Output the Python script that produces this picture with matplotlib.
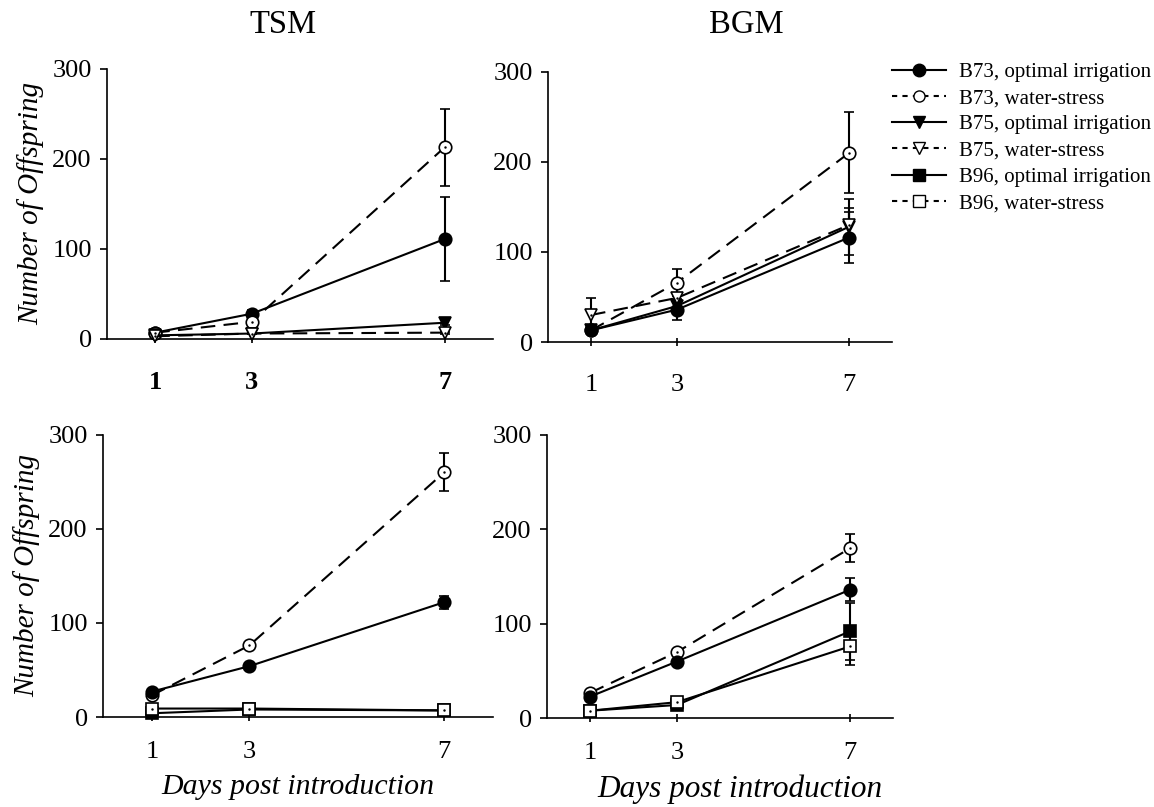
import matplotlib.pyplot as plt
from matplotlib.lines import Line2D

plt.rcParams['font.family'] = ['Liberation Serif', 'DejaVu Serif']

days = [1, 3, 7]

# TSM, top row (B73 and B75)
tsm1_b73_opt = [7, 28, 111]
tsm1_b73_opt_err = [2, 4, 47]
tsm1_b73_ws = [7, 19, 213]
tsm1_b73_ws_err = [2, 3, 43]
tsm1_b75_opt = [4, 6, 18]
tsm1_b75_opt_err = [1, 1, 3]
tsm1_b75_ws = [3, 6, 7]
tsm1_b75_ws_err = [1, 1, 1]

# BGM, top row
bgm1_b73_opt = [13, 36, 116]
bgm1_b73_opt_err = [3, 11, 28]
bgm1_b73_ws = [13, 66, 210]
bgm1_b73_ws_err = [3, 15, 45]
bgm1_b75_opt = [13, 40, 128]
bgm1_b75_opt_err = [3, 8, 31]
bgm1_b75_ws = [30, 49, 130]
bgm1_b75_ws_err = [19, 6, 19]

# TSM, bottom row (B73 and B96)
tsm2_b73_opt = [27, 54, 122]
tsm2_b73_opt_err = [2, 3, 7]
tsm2_b73_ws = [23, 76, 260]
tsm2_b73_ws_err = [2, 3, 20]
tsm2_b96_opt = [4, 8, 7]
tsm2_b96_opt_err = [1, 1, 1]
tsm2_b96_ws = [9, 9, 7]
tsm2_b96_ws_err = [1, 1, 1]

# BGM, bottom row
bgm2_b73_opt = [23, 60, 136]
bgm2_b73_opt_err = [2, 3, 12]
bgm2_b73_ws = [27, 70, 180]
bgm2_b73_ws_err = [2, 3, 15]
bgm2_b96_opt = [8, 14, 92]
bgm2_b96_opt_err = [1, 2, 30]
bgm2_b96_ws = [8, 17, 76]
bgm2_b96_ws_err = [1, 2, 20]

labels = ['B73, optimal irrigation', 'B73, water-stress',
          'B75, optimal irrigation', 'B75, water-stress',
          'B96, optimal irrigation', 'B96, water-stress']
markers = ['o', 'o', 'v', 'v', 's', 's']
filled = [True, False, True, False, True, False]
# in the panels the B96 water-stress line is drawn solid
dashed_in_plot = [False, True, False, True, False, False]

panels = [
    ([0.0927, 0.580, 0.3345, 0.3346], 'TSM', 283,
     [(0, tsm1_b73_opt, tsm1_b73_opt_err), (1, tsm1_b73_ws, tsm1_b73_ws_err),
      (2, tsm1_b75_opt, tsm1_b75_opt_err), (3, tsm1_b75_ws, tsm1_b75_ws_err)]),
    ([0.4749, 0.5762, 0.298, 0.3346], 'BGM', 746,
     [(1, bgm1_b73_ws, bgm1_b73_ws_err), (0, bgm1_b73_opt, bgm1_b73_opt_err),
      (2, bgm1_b75_opt, bgm1_b75_opt_err), (3, bgm1_b75_ws, bgm1_b75_ws_err)]),
    ([0.0893, 0.1115, 0.338, 0.350], None, None,
     [(1, tsm2_b73_ws, tsm2_b73_ws_err), (0, tsm2_b73_opt, tsm2_b73_opt_err),
      (4, tsm2_b96_opt, tsm2_b96_opt_err), (5, tsm2_b96_ws, tsm2_b96_ws_err)]),
    ([0.474, 0.110, 0.300, 0.351], None, None,
     [(1, bgm2_b73_ws, bgm2_b73_ws_err), (0, bgm2_b73_opt, bgm2_b73_opt_err),
      (4, bgm2_b96_opt, bgm2_b96_opt_err), (5, bgm2_b96_ws, bgm2_b96_ws_err)]),
]

fig = plt.figure(figsize=(11.54, 8.07), dpi=100)

for i, (rect, title, title_x, series) in enumerate(panels):
    ax = fig.add_axes(rect)
    for k, y, e in series:
        ls = (0, (7, 4)) if dashed_in_plot[k] else '-'
        mfc = 'black' if filled[k] else 'white'
        eb = ax.errorbar(days, y, yerr=e, color='black', lw=1.5, ls=ls,
                         marker=markers[k], ms=9, mfc=mfc, mec='black', mew=1.2,
                         capsize=3.5, capthick=1.5, elinewidth=1.5,
                         clip_on=False, zorder=3)
        for art in eb.lines[1] + eb.lines[2]:
            art.set_clip_on(False)
        if not filled[k]:
            ax.plot(days, y, ls='none', marker='.', ms=1.5, color='black',
                    clip_on=False, zorder=4)
    ax.set_xlim(0, 8)
    ax.set_ylim(0, 300)
    ax.set_xticks(days)
    ax.set_yticks([0, 100, 200, 300])
    ax.spines['top'].set_visible(False)
    ax.spines['right'].set_visible(False)
    ax.spines['left'].set_linewidth(1.2)
    ax.spines['bottom'].set_linewidth(1.2)
    ax.tick_params(axis='y', direction='out', length=5, width=1.2, labelsize=19, pad=6)
    ax.tick_params(axis='x', direction='inout', length=6, width=1.2, labelsize=19,
                   pad=20 if i < 2 else 14)
    if i == 0:
        for t in ax.get_xticklabels():
            t.set_fontweight('bold')
    if title:
        fig.text(title_x / 1154, 1 - 25 / 807, title, ha='center', va='center',
                 fontsize=23.5)
    if i in (0, 2):
        ax.set_ylabel('Number of Offspring', fontsize=21, style='italic', labelpad=6)
    if i == 2:
        ax.set_xlabel('Days post introduction', fontsize=21.5, style='italic', labelpad=8)
    if i == 3:
        ax.set_xlabel('Days post introduction', fontsize=22.5, style='italic',
                      labelpad=8, x=0.558)

# legend
leg_handles = []
for k in range(6):
    ls = (0, (2.5, 2.5)) if not filled[k] else '-'
    leg_handles.append(Line2D([], [], color='black', lw=1.5, ls=ls, marker=markers[k],
                              ms=9 if filled[k] else 8,
                              mfc='black' if filled[k] else 'white', mec='black', mew=1))
fig.legend(leg_handles, labels, loc='upper left', bbox_to_anchor=(0.757, 0.946),
           frameon=False, fontsize=15, handlelength=2.6, handletextpad=0.6,
           labelspacing=0.32)

fig.savefig('out.png', dpi=100)
